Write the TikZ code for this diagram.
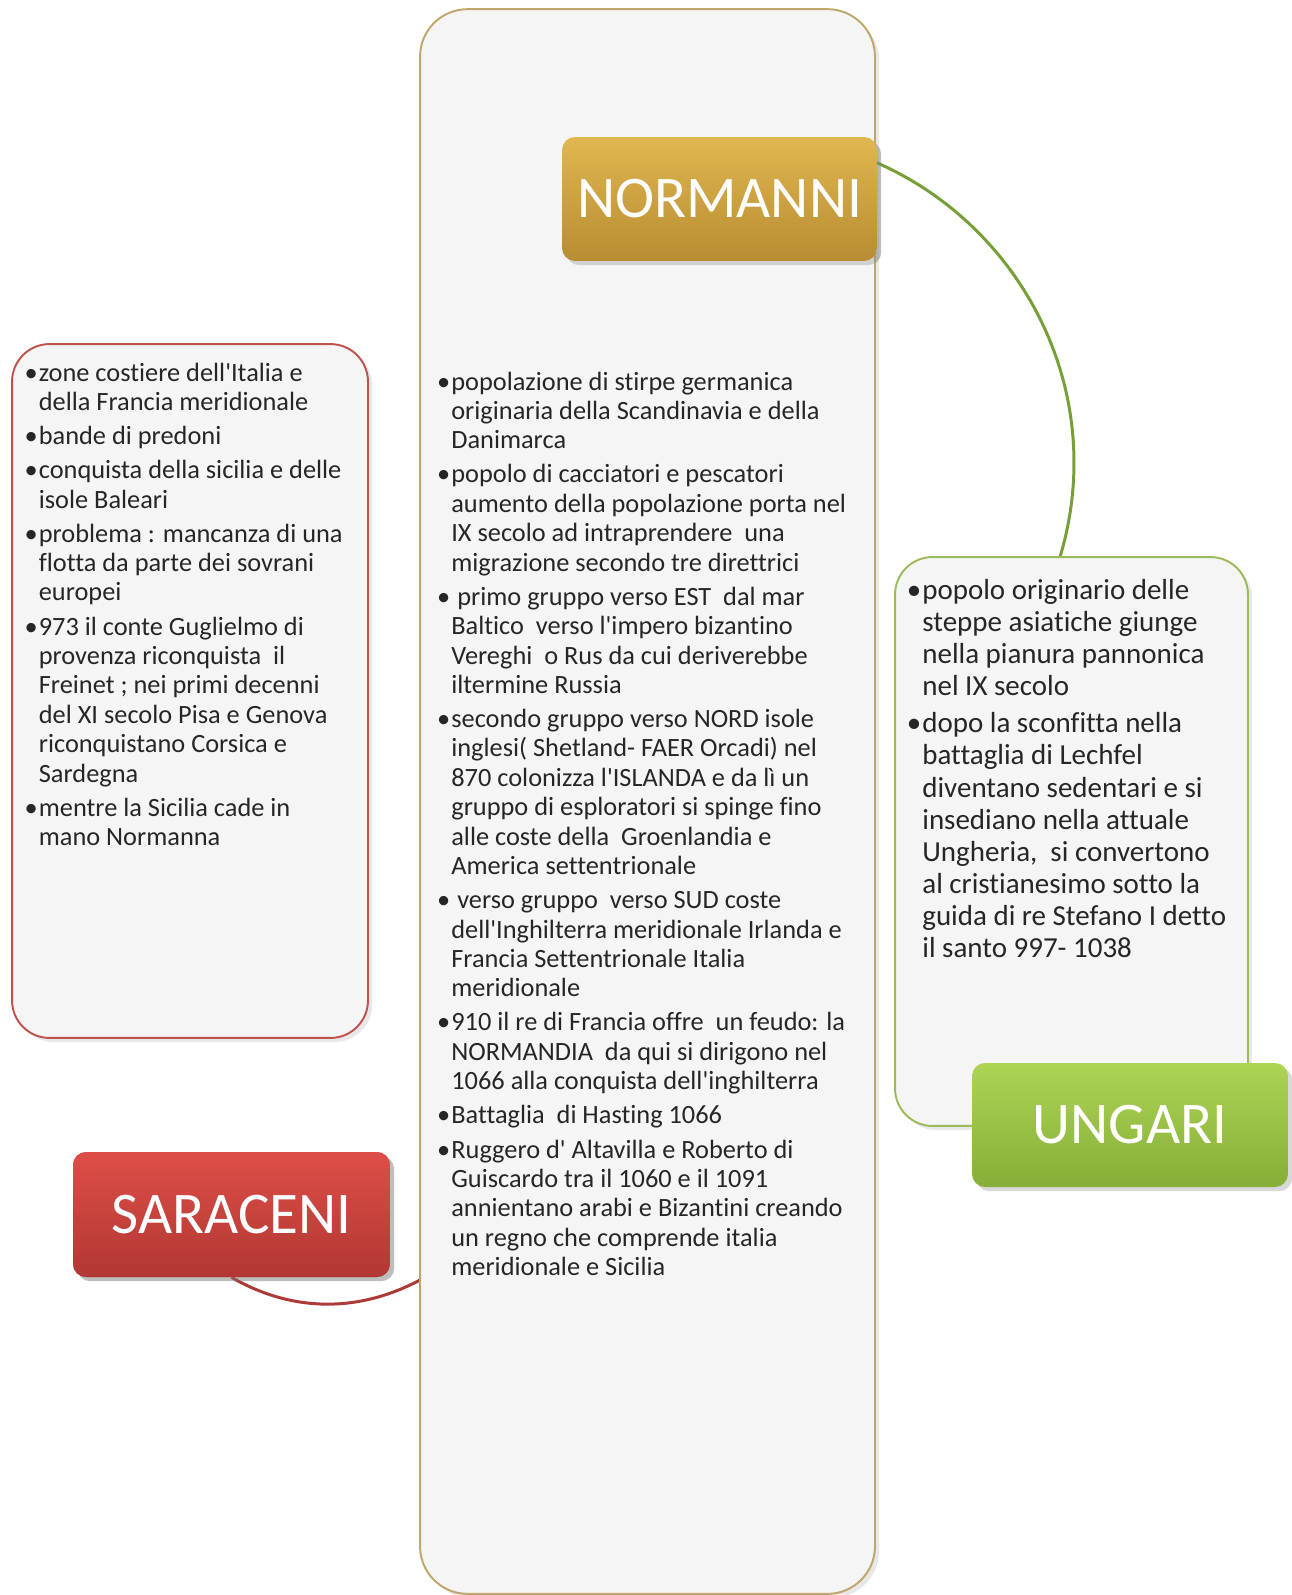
\documentclass[tikz,border=0pt]{standalone}
\usepackage{fontspec}
\setmainfont{Carlito}[Ligatures={TeX,NoCommon}]
\usetikzlibrary{positioning,shadows}

\definecolor{panelfill}{RGB}{245,245,245}
\definecolor{textgray}{RGB}{38,38,38}
\definecolor{normline}{RGB}{192,166,106}
\definecolor{sarline}{RGB}{192,82,78}
\definecolor{ungline}{RGB}{155,187,89}
\definecolor{normtop}{RGB}{224,183,80}
\definecolor{normbot}{RGB}{184,140,50}
\definecolor{sartop}{RGB}{222,78,72}
\definecolor{sarbot}{RGB}{178,55,50}
\definecolor{ungtop}{RGB}{174,212,84}
\definecolor{ungbot}{RGB}{134,174,56}
\definecolor{greenlink}{RGB}{118,160,55}
\definecolor{redlink}{RGB}{172,58,54}

\newcommand{\itm}{\makebox[0pt][r]{\textbullet\hspace{0.6pt}}}
\newcommand{\ap}{\textquotesingle}

\tikzset{
  panel/.style={draw, line width=1.1pt, fill=panelfill, rounded corners=0.75cm,
    inner sep=0pt, drop shadow={opacity=0.18}},
  head/.style={rounded corners=0.26cm, text=white, inner sep=0pt,
    font=\fontsize{33.6}{40}\selectfont, drop shadow={opacity=0.3}},
  notes/.style={anchor=base west, inner sep=0pt, text=textgray},
  link/.style={line width=1.7pt},
}

\begin{document}
\begin{tikzpicture}[x=0.02cm,y=-0.02cm]
\useasboundingbox (0,0) rectangle (1291,1595);
\fill[white] (0,0) rectangle (1291,1595);

% headers (placed first so the links can start from them)
\node[head, top color=normtop, bottom color=normbot,
  minimum width=6.3cm, minimum height=2.48cm] (normanni) at (719.5,199) {NORMANNI};
\node[head, top color=sartop, bottom color=sarbot,
  minimum width=6.34cm, minimum height=2.5cm] (saraceni) at (231.5,1214.5) {SARACENI};
\coordinate (ungin) at (1060,557);
\coordinate (sarin) at (420,1280);

% links
\draw[link, greenlink] (normanni.north) .. controls +(-4.6:230) and +(-73.3:230) .. (ungin);
\draw[link, redlink] (saraceni.south) .. controls +(30:70) and +(152:70) .. (sarin);

% panels
\node[panel, draw=normline, rounded corners=0.95cm,
  minimum width=9.1cm, minimum height=31.7cm] (normbox) at (647.5,801.5) {};
\node[panel, draw=sarline,
  minimum width=7.12cm, minimum height=13.88cm] (sarbox) at (190,691) {};
\node[panel, draw=ungline,
  minimum width=7.06cm, minimum height=11.38cm] (ungbox) at (1071.5,841.5) {};

% headers on top
\node[head, top color=normtop, bottom color=normbot,
  minimum width=6.3cm, minimum height=2.48cm] at (normanni) {NORMANNI};
\node[head, top color=sartop, bottom color=sarbot,
  minimum width=6.34cm, minimum height=2.5cm] at (saraceni) {SARACENI};
\node[head, top color=ungtop, bottom color=ungbot,
  minimum width=6.32cm, minimum height=2.48cm] (ungari) at (1130,1125) {UNGARI};

% text
\node[notes] (normtext) at (451,390) {\parbox[t]{10cm}{\raggedright
\fontsize{15}{16.73}\selectfont
\itm popolazione di stirpe germanica\\
originaria della Scandinavia e della\\
Danimarca\\[2.7pt]
\itm popolo di cacciatori e pescatori\\
aumento della popolazione porta nel\\
IX secolo ad intraprendere\ \ una\\
migrazione secondo tre direttrici\\[2.7pt]
\itm\ primo gruppo verso EST\ \ dal mar\\
Baltico\ \ verso l\ap impero bizantino\\
Vereghi\ \ o Rus da cui deriverebbe\\
iltermine Russia\\[2.7pt]
\itm secondo gruppo verso NORD isole\\
inglesi( Shetland- FAER Orcadi) nel\\
870 colonizza l\ap ISLANDA e da lì un\\
gruppo di esploratori si spinge fino\\
alle coste della\ \ Groenlandia e\\
America settentrionale\\[2.7pt]
\itm\ verso gruppo\ \ verso SUD coste\\
dell\ap Inghilterra meridionale Irlanda e\\
Francia Settentrionale Italia\\
meridionale\\[2.7pt]
\itm 910 il re di Francia offre\ \ un feudo: la\\
NORMANDIA\ \ da qui si dirigono nel\\
1066 alla conquista dell\ap inghilterra\\[2.7pt]
\itm Battaglia\ \ di Hasting 1066\\[2.7pt]
\itm Ruggero d\ap\ Altavilla e Roberto di\\
Guiscardo tra il 1060 e il 1091\\
annientano arabi e Bizantini creando\\
un regno che comprende italia\\
meridionale e Sicilia}};

\node[notes] (sartext) at (38.5,381) {\parbox[t]{8cm}{\raggedright
\fontsize{15}{16.73}\selectfont
\itm zone costiere dell\ap Italia e\\
della Francia meridionale\\[2.7pt]
\itm bande di predoni\\[2.7pt]
\itm conquista della sicilia e delle\\
isole Baleari\\[2.7pt]
\itm problema : mancanza di una\\
flotta da parte dei sovrani\\
europei\\[2.7pt]
\itm 973 il conte Guglielmo di\\
provenza riconquista\ \ il\\
Freinet ; nei primi decenni\\
del XI secolo Pisa e Genova\\
riconquistano Corsica e\\
Sardegna\\[2.7pt]
\itm mentre la Sicilia cade in\\
mano Normanna}};

\node[notes] (ungtext) at (922,599) {\parbox[t]{8cm}{\raggedright
\fontsize{16.5}{18.27}\selectfont
\itm popolo originario delle\\
steppe asiatiche giunge\\
nella pianura pannonica\\
nel IX secolo\\[3.1pt]
\itm dopo la sconfitta nella\\
battaglia di Lechfel\\
diventano sedentari e si\\
insediano nella attuale\\
Ungheria,\ \ si convertono\\
al cristianesimo sotto la\\
guida di re Stefano I detto\\
il santo 997- 1038}};
\end{tikzpicture}
\end{document}
